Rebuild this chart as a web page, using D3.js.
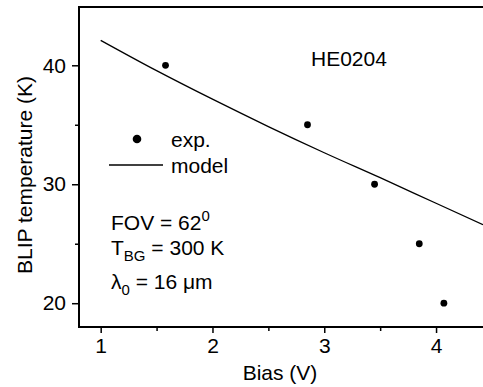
<!DOCTYPE html>
<html>
<head>
<meta charset="utf-8">
<script src="https://cdn.jsdelivr.net/npm/d3@7"></script>
<style>
body { margin: 0; background: #fff; }
svg { display: block; font-family: "Liberation Sans", Arial, sans-serif; }
</style>
</head>
<body>
<svg width="483" height="387"></svg>
<script>
// measured points
var biasExp = [1.58, 2.85, 3.45, 3.85, 4.07];
var tempExp = [40, 35, 30, 25, 20];

// model curve
var biasModel = [1.0, 1.5, 2.0, 2.5, 3.0, 3.5, 4.0, 4.42];
var tempModel = [42.1, 39.55, 37.15, 34.85, 32.65, 30.55, 28.4, 26.6];

var xTicks = [1, 2, 3, 4];
var xMinor = [1.5, 2.5, 3.5];
var yTicks = [20, 30, 40];
var yMinor = [25, 35];

var svg = d3.select('svg');
var width = +svg.attr('width');
var height = +svg.attr('height');

var plotLeft = 79, plotTop = 7, plotBottom = 327, plotRight = 483;
var fs = 21;

var x = d3.scaleLinear().domain([0.806, 4.42]).range([plotLeft, plotRight]);
var y = d3.scaleLinear().domain([18.0, 44.9]).range([plotBottom, plotTop]);

var g = svg.append('g');

// frame (left, bottom, top)
g.append('path')
	.attr('d', 'M' + plotRight + ',' + plotTop + 'H' + plotLeft + 'V' + plotBottom + 'H' + plotRight)
	.attr('fill', 'none')
	.attr('stroke', '#000')
	.attr('stroke-width', 2);

var xAxis = d3.axisBottom(x).tickValues(xTicks).tickSize(6).tickPadding(5).tickFormat(d3.format('d'));
var xAxisMinor = d3.axisBottom(x).tickValues(xMinor).tickSize(4).tickFormat('');
var yAxis = d3.axisLeft(y).tickValues(yTicks).tickSize(7).tickPadding(6).tickFormat(d3.format('d'));
var yAxisMinor = d3.axisLeft(y).tickValues(yMinor).tickSize(4).tickFormat('');

function styleAxis(sel) {
	sel.select('.domain').remove();
	sel.selectAll('line').attr('stroke', '#000').attr('stroke-width', 1.5);
	sel.selectAll('text').attr('font-size', fs).attr('fill', '#000').attr('font-family', null);
}

g.append('g').attr('transform', 'translate(0,' + plotBottom + ')').call(xAxis).call(styleAxis);
g.append('g').attr('transform', 'translate(0,' + plotBottom + ')').call(xAxisMinor).call(styleAxis);
g.append('g').attr('transform', 'translate(' + plotLeft + ',0)').call(yAxis).call(styleAxis);
g.append('g').attr('transform', 'translate(' + plotLeft + ',0)').call(yAxisMinor).call(styleAxis);

// axis titles
svg.append('text')
	.attr('x', 280).attr('y', 380)
	.attr('text-anchor', 'middle')
	.attr('font-size', fs)
	.text('Bias (V)');

svg.append('text')
	.attr('transform', 'translate(32,175) rotate(-90)')
	.attr('text-anchor', 'middle')
	.attr('font-size', fs)
	.text('BLIP temperature (K)');

// model line
var modelData = biasModel.map(function (b, i) { return [b, tempModel[i]]; });
var line = d3.line()
	.x(function (d) { return x(d[0]); })
	.y(function (d) { return y(d[1]); })
	.curve(d3.curveMonotoneX);

g.append('path')
	.datum(modelData)
	.attr('d', line)
	.attr('fill', 'none')
	.attr('stroke', '#000')
	.attr('stroke-width', 1.3);

// experiment dots
g.selectAll('.dot')
	.data(biasExp)
	.enter()
	.append('circle')
	.attr('class', 'dot')
	.attr('cx', function (d) { return x(d); })
	.attr('cy', function (d, i) { return y(tempExp[i]); })
	.attr('r', 3.4)
	.attr('fill', '#000');

svg.append('text')
	.attr('x', 311).attr('y', 66)
	.attr('font-size', fs)
	.text('HE0204');

// legend
svg.append('circle').attr('cx', 137).attr('cy', 139).attr('r', 4.3).attr('fill', '#000');
svg.append('line')
	.attr('x1', 109).attr('x2', 163).attr('y1', 165).attr('y2', 165)
	.attr('stroke', '#000').attr('stroke-width', 1.3);
svg.append('text').attr('x', 171).attr('y', 147).attr('font-size', fs).text('exp.');
svg.append('text').attr('x', 171).attr('y', 173).attr('font-size', fs).text('model');

// parameters
var t1 = svg.append('text').attr('x', 111).attr('y', 230).attr('font-size', fs);
t1.append('tspan').text('FOV = 62');
t1.append('tspan').attr('font-size', 15).attr('dy', -9).text('0');

var t2 = svg.append('text').attr('x', 111).attr('y', 255).attr('font-size', fs);
t2.append('tspan').text('T');
t2.append('tspan').attr('font-size', 15).attr('dy', 6).text('BG');
t2.append('tspan').attr('dy', -6).text(' = 300 K');

var t3 = svg.append('text').attr('x', 111).attr('y', 289).attr('font-size', fs);
t3.append('tspan').text('λ');
t3.append('tspan').attr('font-size', 15).attr('dy', 6).text('0');
t3.append('tspan').attr('dy', -6).text(' = 16 μm');
</script>
</body>
</html>
